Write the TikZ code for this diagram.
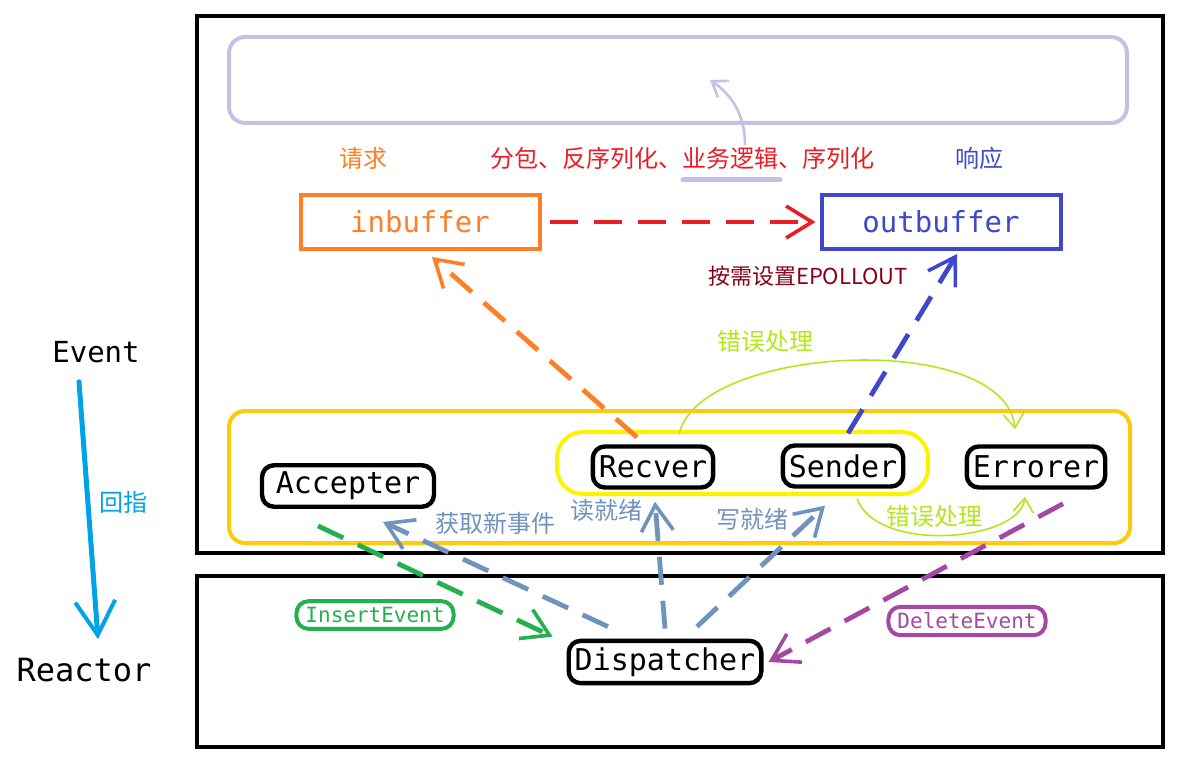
\documentclass[tikz,border=0pt]{standalone}
\usepackage{fontspec}
\setmonofont{DejaVu Sans Mono}
\newfontfamily\cjk{Noto Sans CJK SC}
\usetikzlibrary{arrows.meta}

\definecolor{evorange}{RGB}{255,127,39}
\definecolor{evred}{RGB}{237,28,36}
\definecolor{evblue}{RGB}{63,72,204}
\definecolor{evlav}{RGB}{200,191,231}
\definecolor{evgold}{RGB}{255,201,14}
\definecolor{evyellow}{RGB}{255,242,0}
\definecolor{evlime}{RGB}{181,230,29}
\definecolor{evsteel}{RGB}{112,146,190}
\definecolor{evgreen}{RGB}{34,177,76}
\definecolor{evpurple}{RGB}{163,73,164}
\definecolor{evcyan}{RGB}{0,162,232}
\definecolor{evdark}{RGB}{136,0,21}

\tikzset{
	handler/.style={draw=black,line width=2.2pt,rounded corners=6pt,minimum height=20.5pt,inner xsep=3pt,font=\ttfamily\fontsize{15}{18}\selectfont},
	bufbox/.style={draw=#1,text=#1,line width=2pt,minimum width=119.5pt,minimum height=27pt,font=\ttfamily\fontsize{14.5}{17}\selectfont},
	tagbox/.style={draw=#1,text=#1,line width=2pt,rounded corners=6pt,inner xsep=4.5pt,inner ysep=3pt,font=\ttfamily\fontsize{10.5}{12}\selectfont},
	note/.style={text=#1,inner sep=1pt,font=\cjk\fontsize{12}{14}\selectfont},
	flow/.style={draw=#1,line width=2.4pt,dash pattern=on 14pt off 8pt,-{Straight Barb[length=13pt,width=16pt,line width=1.8pt]}},
	errflow/.style={draw=evlime,line width=0.8pt,-{Straight Barb[length=7pt,width=10pt]}},
}

\begin{document}
\begin{tikzpicture}[x=0.5pt,y=-0.5pt]
	\useasboundingbox (0,0) rectangle (1187,764);

	% Frames
	\draw[line width=2pt] (197,16) rectangle (1163,553);
	\draw[line width=2pt] (197,576) rectangle (1163,747);
	\draw[evlav,line width=2pt,rounded corners=8pt] (229,37) rectangle (1127,123);
	\draw[evgold,line width=2pt,rounded corners=8pt] (229,411) rectangle (1130,543);
	\draw[evyellow,line width=2pt,rounded corners=13pt] (557,432) rectangle (928,494);

	% Buffers
	\node[bufbox=evorange] (inbuf) at (420,222) {inbuffer};
	\node[bufbox=evblue] (outbuf) at (941,222) {outbuffer};
	\node[note=evorange] (req) at (363,158) {请求};
	\node[note=evred] (work) at (682,158) {分包、反序列化、业务逻辑、序列化};
	\node[note=evblue] (resp) at (979,158) {响应};
	\node[text=evdark,inner sep=1pt,font=\cjk\fontsize{11}{13}\selectfont] (epoll) at (808,276) {按需设置EPOLLOUT};
	\draw[evlav,line width=2.5pt,line cap=round] (683,180) -- (780,180);
	\coordinate (logic) at (745,145);
	\coordinate (upper) at (710,80);
	\draw[evlav,line width=1.3pt,-{Straight Barb[length=7pt,width=10pt]}] (logic) .. controls (745,115) and (732,95) .. (upper);

	% Handlers
	\node[handler] (recv) at (653,467) {Recver};
	\node[handler] (send) at (843,466) {Sender};
	\node[handler] (err) at (1036,467) {Errorer};
	\node[handler,minimum width=86pt] (acc) at (348,486) {Accepter};
	\node[handler] (disp) at (665,662) {Dispatcher};

	% Buffer flows
	\draw[flow=evred] ([xshift=4pt]inbuf.east) -- ([xshift=-2pt]outbuf.west);
	\draw[flow=evorange] ([xshift=-8pt,yshift=3.5pt]recv.north) -- ([xshift=6pt,yshift=-3pt]inbuf.south);
	\draw[flow=evblue] ([xshift=2.5pt,yshift=5pt]send.north) -- ([xshift=8pt,yshift=-1.5pt]outbuf.south);

	% Error handling
	\draw[errflow] ([xshift=13pt,yshift=5pt]recv.north) .. controls +(20,-90) and +(-10,-100) .. ([xshift=-10.5pt,yshift=7.5pt]err.north);
	\node[note=evlime] (errtop) at (765,341) {错误处理};
	\draw[errflow] ([xshift=7pt,yshift=-5pt]send.south) .. controls +(20,55) and +(-5,45) .. ([xshift=-5.5pt,yshift=-3.5pt]err.south);
	\node[note=evlime] (errlow) at (934,516) {错误处理};

	% Dispatcher
	\draw[flow=evsteel] ([xshift=-28.5pt,yshift=6pt]disp.north) -- ([xshift=17.5pt,yshift=-6.5pt]acc.south);
	\draw[flow=evsteel] ([yshift=5pt]disp.north) -- ([xshift=1pt,yshift=-6pt]recv.south);
	\draw[flow=evsteel] ([xshift=16pt,yshift=6pt]disp.north) -- ([xshift=-9pt,yshift=-8.5pt]send.south);
	\node[note=evsteel] (newev) at (495,523) {获取新事件};
	\node[note=evsteel] (rdy) at (606,510) {读就绪};
	\node[note=evsteel] (wdy) at (752,519) {写就绪};
	\draw[flow=evgreen] ([xshift=-15pt,yshift=-8.5pt]acc.south) -- ([xshift=-7pt,yshift=1pt]disp.north west);
	\node[tagbox=evgreen] (ins) at (375,615) {InsertEvent};
	\draw[flow=evpurple] ([xshift=13.5pt,yshift=-7pt]err.south) -- ([xshift=2.5pt]disp.east);
	\node[tagbox=evpurple] (del) at (967,621) {DeleteEvent};

	% Event -> Reactor
	\node[font=\ttfamily\fontsize{14.5}{17}\selectfont] (event) at (96,352) {Event};
	\node[font=\ttfamily\fontsize{16}{19}\selectfont] (reactor) at (84,670) {Reactor};
	\draw[evcyan,line width=2.5pt,line cap=round,-{Straight Barb[length=17pt,width=20pt,line width=2pt]}] ([xshift=-8.5pt,yshift=-6pt]event.south) -- ([xshift=7pt,yshift=6pt]reactor.north);
	\node[note=evcyan] (back) at (123,502) {回指};
\end{tikzpicture}
\end{document}
